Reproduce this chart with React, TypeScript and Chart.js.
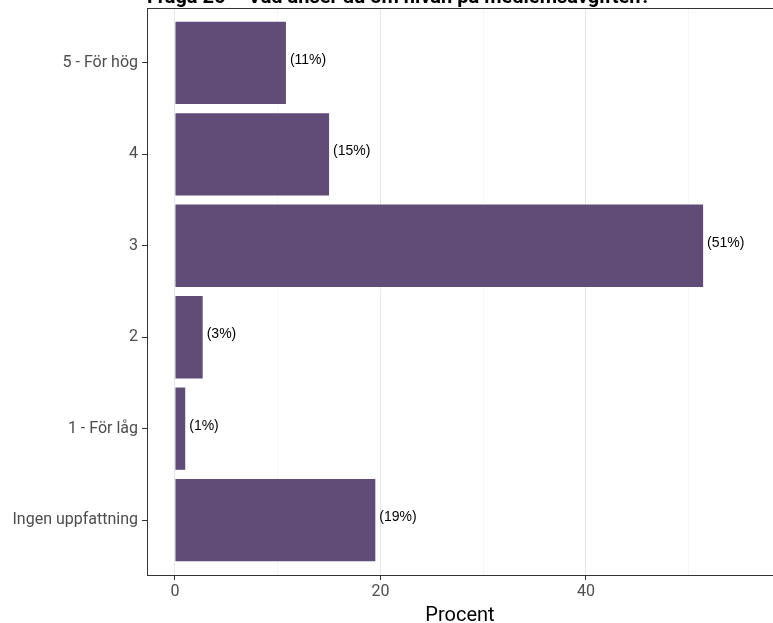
import React, { useEffect, useRef } from "react";
import { Chart, registerables } from "chart.js";

Chart.register(...registerables);

const titleText = "Fråga 26 – Vad anser du om nivån på medlemsavgiften?";
const categories = ["5 - För hög", "4", "3", "2", "1 - För låg", "Ingen uppfattning"];
const values = [10.8, 15.0, 51.4, 2.7, 1.0, 19.5];
const valueLabels = ["(11%)", "(15%)", "(51%)", "(3%)", "(1%)", "(19%)"];
const xTicks = [0, 10, 20, 30, 40, 50];
const xAxisTitle = "Procent";

const SHIFT = 12;
const W = 773;
const H = 623 + SHIFT;

const panelBorder = {
  id: "panelBorder",
  afterDraw(chart: any) {
    const { ctx, chartArea } = chart;
    ctx.save();
    ctx.strokeStyle = "#333333";
    ctx.lineWidth = 1;
    ctx.strokeRect(
      Math.round(chartArea.left) + 0.5,
      Math.round(chartArea.top) + 0.5,
      Math.round(chartArea.right - chartArea.left) + 2,
      Math.round(chartArea.bottom - chartArea.top)
    );
    ctx.restore();
  },
};

const barLabels = {
  id: "barLabels",
  afterDatasetsDraw(chart: any) {
    const { ctx } = chart;
    const meta = chart.getDatasetMeta(0);
    ctx.save();
    ctx.font = "14px 'Liberation Sans', Arial, sans-serif";
    ctx.fillStyle = "#000000";
    ctx.textAlign = "left";
    ctx.textBaseline = "middle";
    meta.data.forEach((el: any, i: number) => {
      ctx.fillText(valueLabels[i], el.x + 4, el.y - 3);
    });
    ctx.restore();
  },
};

export default function App() {
  const ref = useRef<HTMLCanvasElement | null>(null);

  useEffect(() => {
    if (!ref.current) return;
    const chart = new Chart(ref.current, {
      type: "bar",
      data: {
        datasets: [
          {
            data: values.map((v, i) => ({ x: v, y: i + 1 })) as any,
            backgroundColor: "#614c78",
            borderWidth: 0,
            barPercentage: 0.9,
            categoryPercentage: 1,
          },
        ],
      },
      options: {
        indexAxis: "y",
        animation: false,
        responsive: false,
        maintainAspectRatio: false,
        layout: { padding: { left: 0, right: 0, top: 0, bottom: 0 } },
        plugins: {
          legend: { display: false },
          tooltip: { enabled: false },
          title: {
            display: true,
            text: titleText,
            align: "start",
            fullSize: false,
            color: "#000000",
            font: { family: "Roboto, 'DejaVu Sans', sans-serif", size: 20, weight: "bold", lineHeight: 1 },
            padding: { top: 0, bottom: 0 },
          },
        },
        scales: {
          x: {
            type: "linear",
            min: -2.72,
            max: 58.2,
            afterBuildTicks: (s: any) => {
              s.ticks = xTicks.map((v) => ({ value: v }));
            },
            afterFit: (s: any) => {
              s.height = 48;
            },
            border: { display: false },
            grid: {
              drawOnChartArea: true,
              drawTicks: true,
              tickLength: 5,
              color: (c: any) => (c.tick && c.tick.value % 20 === 0 ? "#e6e6e6" : "#f3f3f3"),
              lineWidth: (c: any) => (c.tick && c.tick.value % 20 === 0 ? 1 : 0.7),
              tickColor: (c: any) => (c.tick && c.tick.value % 20 === 0 ? "#333333" : "rgba(0,0,0,0)"),
              tickWidth: 1,
            },
            ticks: {
              padding: 2,
              color: "#4d4d4d",
              font: { family: "Roboto, 'DejaVu Sans', sans-serif", size: 16 },
              maxRotation: 0,
              autoSkip: false,
              callback: (v: any) => (Number(v) % 20 === 0 ? String(v) : ""),
            },
            title: {
              display: true,
              text: xAxisTitle,
              color: "#000000",
              font: { family: "Roboto, 'DejaVu Sans', sans-serif", size: 20, lineHeight: 1 },
              padding: { top: 0, bottom: -3 },
            },
          },
          y: {
            type: "linear",
            min: 0.4,
            max: 6.6,
            reverse: true,
            offset: false,
            afterBuildTicks: (s: any) => {
              s.ticks = categories.map((_, i) => ({ value: i + 1 }));
            },
            afterFit: (s: any) => {
              s.width = 147;
            },
            border: { display: false },
            grid: {
              offset: false,
              drawOnChartArea: false,
              drawTicks: true,
              tickLength: 5,
              tickColor: "#333333",
              tickWidth: 1,
            },
            ticks: {
              padding: 4,
              color: "#4d4d4d",
              font: { family: "Roboto, 'DejaVu Sans', sans-serif", size: 16 },
              autoSkip: false,
              callback: (v: any) => categories[Number(v) - 1] ?? "",
            },
          },
        },
      },
      plugins: [panelBorder, barLabels],
    });
    return () => chart.destroy();
  }, []);

  return (
    <div style={{ position: "fixed", left: 0, top: 0, width: W, height: 623, overflow: "hidden", background: "#ffffff" }}>
      <canvas ref={ref} width={W} height={H} style={{ position: "absolute", left: 0, top: -SHIFT, width: W, height: H }} />
    </div>
  );
}
